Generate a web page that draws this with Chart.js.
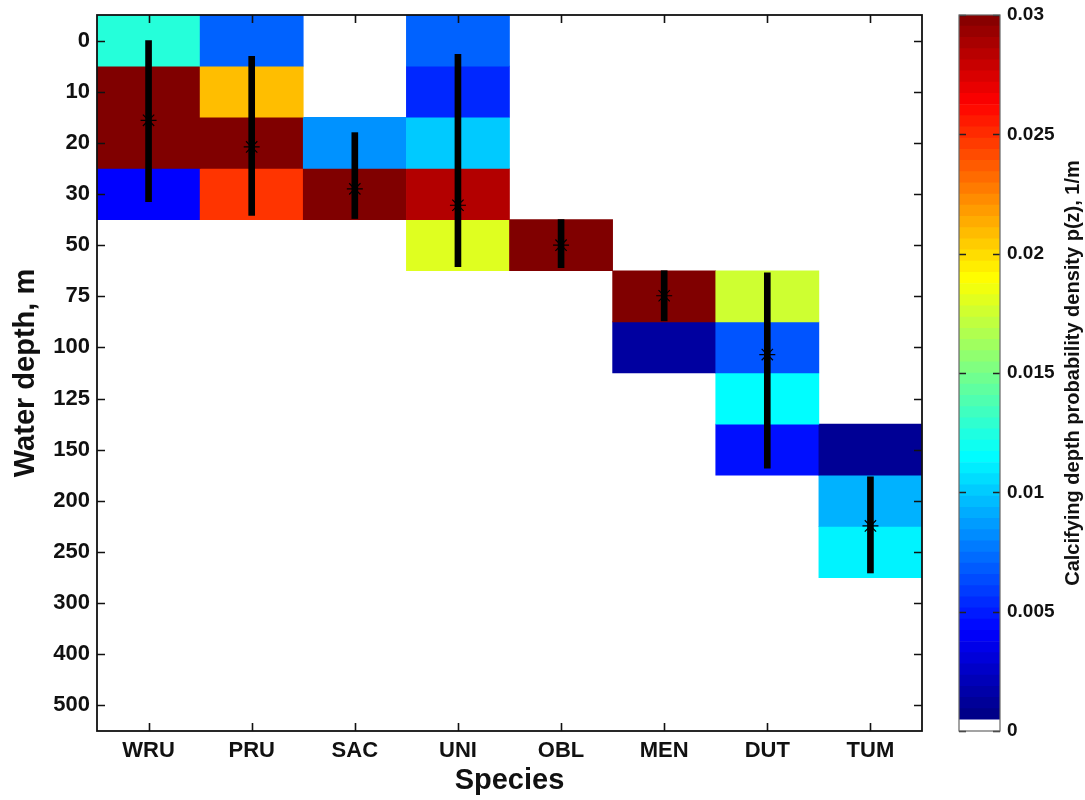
<!DOCTYPE html>
<html>
<head>
<meta charset="utf-8">
<script src="https://cdn.jsdelivr.net/npm/chart.js@4.4.1/dist/chart.umd.min.js"></script>
<style>
  html, body { margin: 0; padding: 0; background: #fff; }
  #wrap { position: relative; width: 1085px; height: 800px; overflow: hidden; }
  #main { position: absolute; left: 0; top: 0; }
  #cbar { position: absolute; left: 945px; top: 0; }
</style>
</head>
<body>
<div id="wrap">
  <canvas id="main" width="945" height="800"></canvas>
  <canvas id="cbar" width="140" height="800"></canvas>
</div>
<script>
// ---------------- DATA ----------------
const species = ['WRU', 'PRU', 'SAC', 'UNI', 'OBL', 'MEN', 'DUT', 'TUM'];
const depthLabels = ['0', '10', '20', '30', '50', '75', '100', '125', '150', '200', '250', '300', '400', '500'];

// calcifying depth probability density p(z), 1/m, per depth bin (rows as depthLabels)
const pWRU = [0.0126, 0.0300, 0.0300, 0.0042, 0, 0, 0, 0, 0, 0, 0, 0, 0, 0];
const pPRU = [0.0070, 0.0208, 0.0300, 0.0248, 0, 0, 0, 0, 0, 0, 0, 0, 0, 0];
const pSAC = [0, 0, 0.0084, 0.0300, 0, 0, 0, 0, 0, 0, 0, 0, 0, 0];
const pUNI = [0.0070, 0.0053, 0.0100, 0.0285, 0.0180, 0, 0, 0, 0, 0, 0, 0, 0, 0];
const pOBL = [0, 0, 0, 0, 0.0300, 0, 0, 0, 0, 0, 0, 0, 0, 0];
const pMEN = [0, 0, 0, 0, 0, 0.0300, 0.0014, 0, 0, 0, 0, 0, 0, 0];
const pDUT = [0, 0, 0, 0, 0, 0.0175, 0.0066, 0.0115, 0.0046, 0, 0, 0, 0, 0];
const pTUM = [0, 0, 0, 0, 0, 0, 0, 0, 0.0011, 0.0093, 0.0112, 0, 0, 0];

// mean depth and spread, in depth-row units (0 = "0 m" row, 1 = "10 m" row, ...)
const meanRow = [1.56, 2.08, 2.90, 3.22, 4.00, 4.99, 6.14, 9.49];
const lowRow  = [0.00, 0.31, 1.80, 0.27, 3.50, 4.50, 4.54, 8.53];
const highRow = [3.15, 3.42, 3.48, 4.42, 4.44, 5.48, 8.36, 10.41];

// colour bar
const cMin = 0, cMax = 0.03;
const cbTicks = [0, 0.005, 0.01, 0.015, 0.02, 0.025, 0.03];
const cbTickLabels = ['0', '0.005', '0.01', '0.015', '0.02', '0.025', '0.03'];
const cbLevels = 64;
const cbTitle = 'Calcifying depth probability density p(z), 1/m';

// ---------------- COLOUR MAP (white + jet) ----------------
function clamp01(v) { return Math.max(0, Math.min(1, v)); }
function jet(t) {
  const r = clamp01(Math.min(4 * t - 1.5, -4 * t + 4.5));
  const g = clamp01(Math.min(4 * t - 0.5, -4 * t + 3.5));
  const b = clamp01(Math.min(4 * t + 0.5, -4 * t + 2.5));
  return 'rgb(' + Math.round(r * 255) + ',' + Math.round(g * 255) + ',' + Math.round(b * 255) + ')';
}
function colorFor(v) {
  const s = (v - cMin) / (cMax - cMin) * cbLevels;
  if (s < 1) return '#ffffff';
  return jet(clamp01((s - 1) / (cbLevels - 1)));
}

const FONT = "'Liberation Sans', Arial, Helvetica, sans-serif";
Chart.defaults.font.family = FONT;
Chart.defaults.color = '#000';

// ---------------- MAIN HEATMAP ----------------
const matrix = [pWRU, pPRU, pSAC, pUNI, pOBL, pMEN, pDUT, pTUM];

const cellDatasets = depthLabels.map((lab, r) => ({
  type: 'bar',
  label: 'depth ' + lab,
  data: species.map((s, c) => matrix[c][r] > 0 ? [r - 0.5, r + 0.5] : null),
  backgroundColor: species.map((s, c) => colorFor(matrix[c][r])),
  borderWidth: 0,
  grouped: false,
  categoryPercentage: 1.0,
  barPercentage: 1.0,
  order: 3
}));

const errDataset = {
  type: 'bar',
  label: 'range',
  data: species.map((s, i) => [lowRow[i], highRow[i]]),
  backgroundColor: '#000',
  borderWidth: 0,
  barThickness: 6,
  grouped: false,
  order: 2
};

const meanDataset = {
  type: 'line',
  label: 'mean',
  data: meanRow.slice(),
  showLine: false,
  pointStyle: 'star',
  pointRadius: 8,
  pointBorderColor: '#000',
  pointBackgroundColor: '#000',
  pointBorderWidth: 1.2,
  order: 1
};

const boxPlugin = {
  id: 'boxTicks',
  afterDraw(chart) {
    const { ctx, chartArea: a } = chart;
    const x = chart.scales.x, y = chart.scales.y;
    ctx.save();
    ctx.strokeStyle = '#111';
    ctx.lineWidth = 1.6;
    ctx.beginPath();
    const tl = 8;
    x.ticks.forEach((t, i) => {
      const px = Math.round(x.getPixelForTick(i)) + 0.5;
      ctx.moveTo(px, a.bottom); ctx.lineTo(px, a.bottom - tl);
      ctx.moveTo(px, a.top); ctx.lineTo(px, a.top + tl);
    });
    y.ticks.forEach((t, i) => {
      const py = Math.round(y.getPixelForTick(i)) + 0.5;
      ctx.moveTo(a.left, py); ctx.lineTo(a.left + tl, py);
      ctx.moveTo(a.right, py); ctx.lineTo(a.right - tl, py);
    });
    ctx.stroke();
    ctx.lineWidth = 1.8;
    ctx.strokeRect(a.left, a.top, a.right - a.left, a.bottom - a.top);
    ctx.restore();
  }
};

new Chart(document.getElementById('main'), {
  type: 'bar',
  data: {
    labels: species,
    datasets: [meanDataset, errDataset].concat(cellDatasets)
  },
  options: {
    responsive: false,
    devicePixelRatio: 1,
    animation: false,
    events: [],
    layout: { padding: { left: 0, right: 23, top: 15, bottom: 0 } },
    plugins: { legend: { display: false }, tooltip: { enabled: false } },
    scales: {
      x: {
        type: 'category',
        offset: true,
        grid: { display: false, drawTicks: false },
        border: { display: false },
        ticks: { font: { size: 22, weight: 'bold' }, padding: 7, color: '#111', maxRotation: 0, autoSkip: false },
        title: { display: true, text: 'Species', font: { size: 29, weight: 'bold' }, color: '#111', padding: { top: 0, bottom: 2 } },
        afterFit(scale) { scale.height = 69; scale.paddingLeft = 0; scale.paddingRight = 0; }
      },
      y: {
        type: 'linear',
        reverse: true,
        min: -0.5,
        max: depthLabels.length - 0.5,
        grid: { display: false, drawTicks: false },
        border: { display: false },
        afterBuildTicks(scale) { scale.ticks = depthLabels.map((l, i) => ({ value: i })); },
        ticks: {
          autoSkip: false,
          font: { size: 22, weight: 'bold' },
          padding: 7,
          color: '#111',
          callback: (v, i) => depthLabels[i]
        },
        title: { display: true, text: 'Water depth, m', font: { size: 29, weight: 'bold' }, color: '#111', padding: { top: 9, bottom: 0 } },
        afterFit(scale) { scale.width = 97; scale.paddingTop = 0; scale.paddingBottom = 0; }
      }
    }
  },
  plugins: [boxPlugin]
});

// ---------------- COLOUR BAR ----------------
const cbDatasets = [];
for (let i = 0; i < cbLevels; i++) {
  const lo = cMin + (cMax - cMin) * i / cbLevels;
  const hi = cMin + (cMax - cMin) * (i + 1) / cbLevels;
  cbDatasets.push({
    data: [[lo, hi]],
    backgroundColor: colorFor((lo + hi) / 2),
    borderWidth: 0,
    grouped: false,
    categoryPercentage: 1.0,
    barPercentage: 1.0
  });
}

const cbPlugin = {
  id: 'cbDecor',
  afterDraw(chart) {
    const { ctx, chartArea: a } = chart;
    const y = chart.scales.y;
    ctx.save();
    ctx.strokeStyle = '#222';
    ctx.lineWidth = 1.4;
    ctx.beginPath();
    const tl = 7;
    y.ticks.forEach((t, i) => {
      const py = Math.round(y.getPixelForTick(i)) + 0.5;
      ctx.moveTo(a.left, py); ctx.lineTo(a.left + tl, py);
      ctx.moveTo(a.right, py); ctx.lineTo(a.right - tl, py);
    });
    ctx.stroke();
    ctx.strokeStyle = '#666';
    ctx.lineWidth = 1.2;
    ctx.strokeRect(a.left, a.top, a.right - a.left, a.bottom - a.top);
    // title, reading bottom to top
    ctx.translate(128, (a.top + a.bottom) / 2);
    ctx.rotate(-Math.PI / 2);
    ctx.fillStyle = '#111';
    ctx.font = 'bold 20px ' + FONT;
    ctx.textAlign = 'center';
    ctx.textBaseline = 'middle';
    ctx.fillText(cbTitle, 0, 0);
    ctx.restore();
  }
};

new Chart(document.getElementById('cbar'), {
  type: 'bar',
  data: { labels: ['cb'], datasets: cbDatasets },
  options: {
    responsive: false,
    devicePixelRatio: 1,
    animation: false,
    events: [],
    layout: { padding: { left: 14, right: 0, top: 15, bottom: 69 } },
    plugins: { legend: { display: false }, tooltip: { enabled: false } },
    scales: {
      x: { type: 'category', display: false, offset: true },
      y: {
        type: 'linear',
        position: 'right',
        min: cMin,
        max: cMax,
        grid: { display: false, drawTicks: false },
        border: { display: false },
        afterBuildTicks(scale) { scale.ticks = cbTicks.map(v => ({ value: v })); },
        ticks: {
          autoSkip: false,
          font: { size: 19, weight: 'bold' },
          padding: 7,
          color: '#111',
          callback: (v, i) => cbTickLabels[i]
        },
        afterFit(scale) { scale.width = 85; scale.paddingTop = 0; scale.paddingBottom = 0; }
      }
    }
  },
  plugins: [cbPlugin]
});
</script>
</body>
</html>
